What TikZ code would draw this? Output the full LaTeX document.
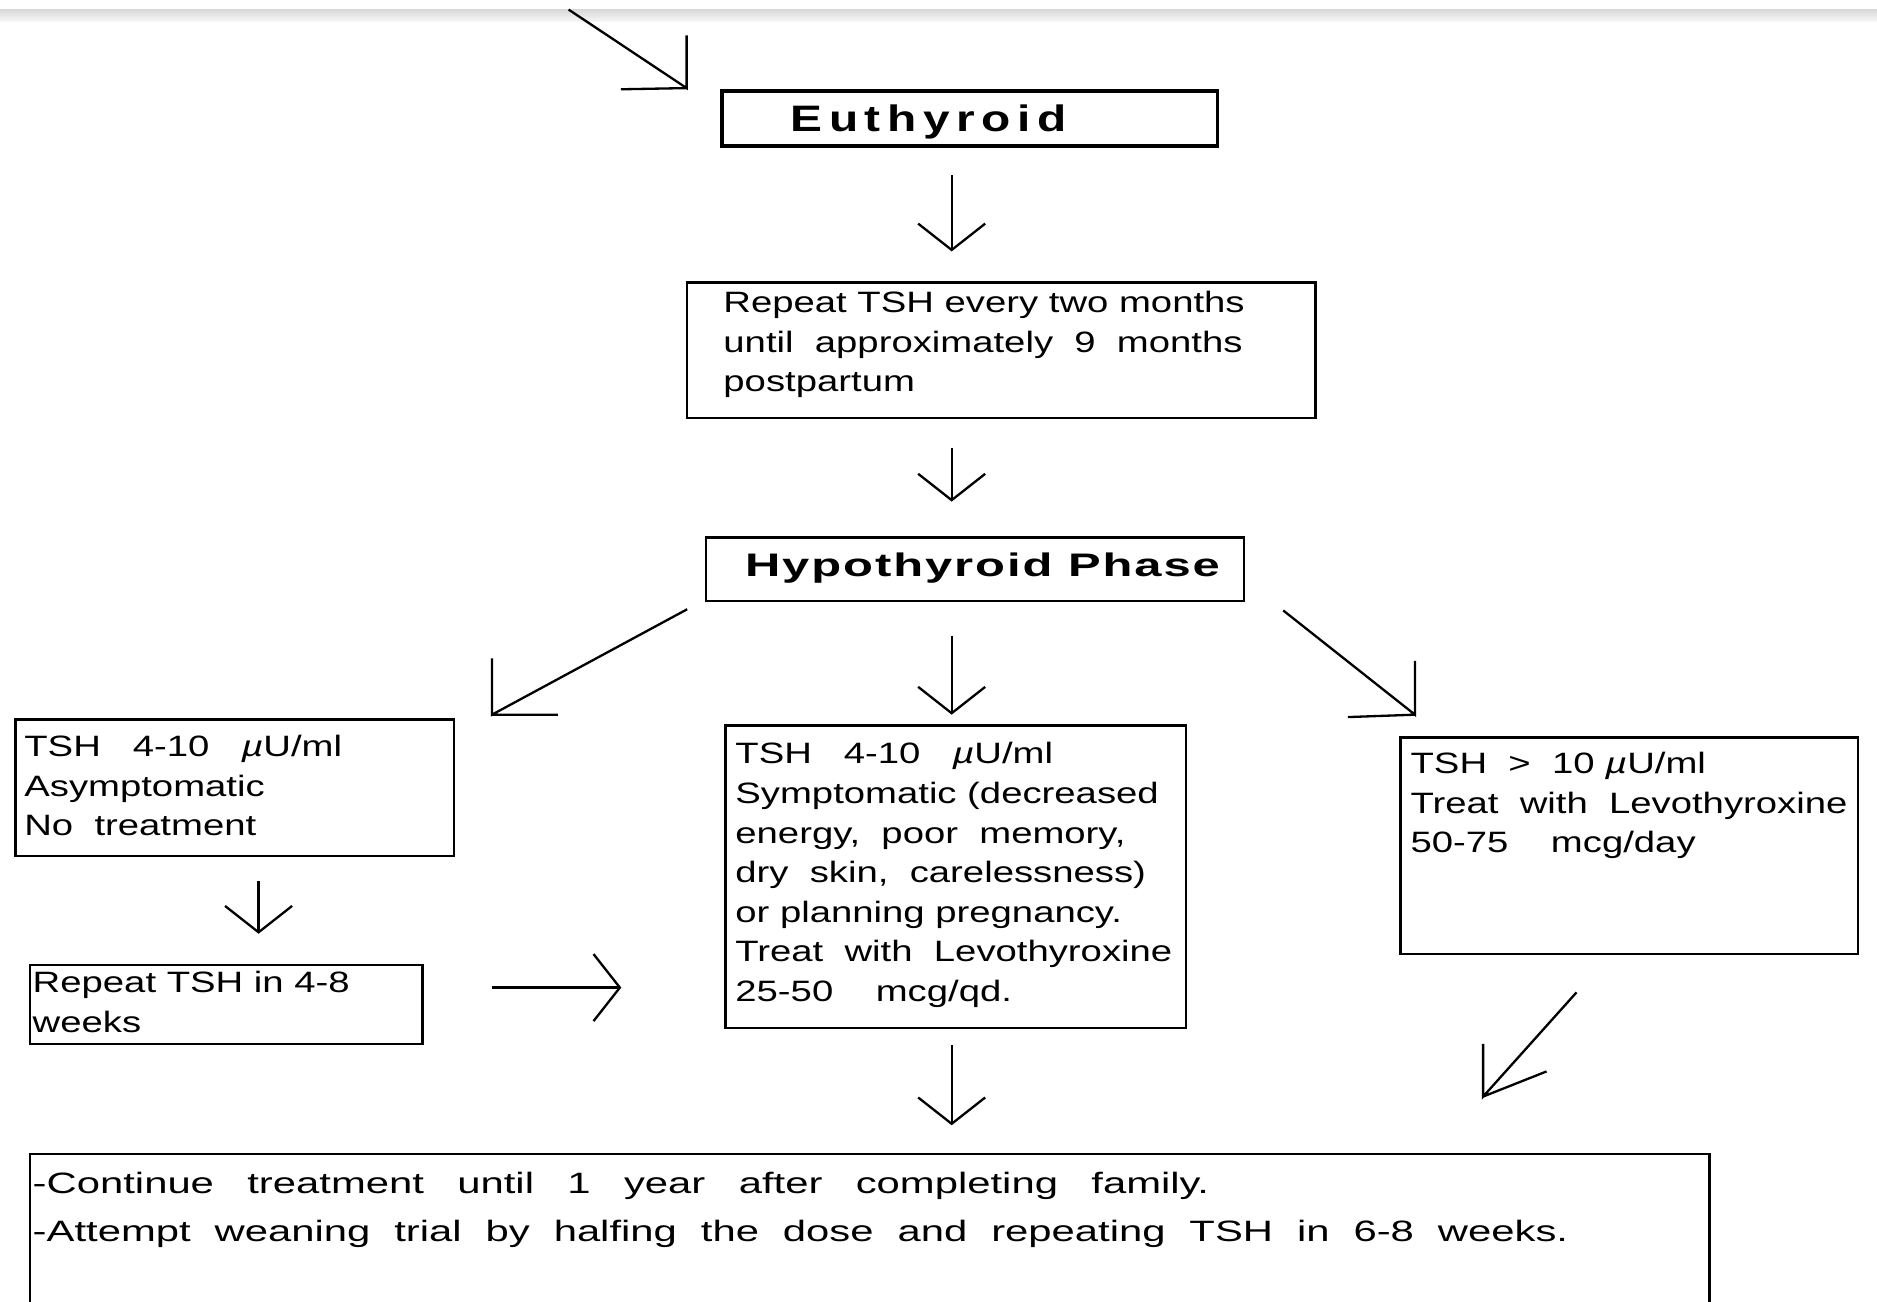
\documentclass[tikz,border=0pt]{standalone}
\usepackage{fontspec}
\setmainfont{Liberation Sans}
\newfontfamily\bodyfont{Liberation Sans}[FakeStretch=1.3]
\newfontfamily\widefont{Liberation Sans}[FakeStretch=1.42]
\newfontfamily\eufont{Liberation Sans}[FakeStretch=1.3,LetterSpace=18]
\newfontfamily\phasefont{Liberation Sans}[FakeStretch=1.5,LetterSpace=6]
\usetikzlibrary{arrows.meta,calc,fit}

\tikzset{
  box/.style={draw,line width=1.1pt,inner sep=0pt},
  txt/.style={font=\bodyfont\fontsize{14}{18.8}\selectfont,align=left,inner sep=0pt,anchor=north west},
  phase/.style={font=#1,inner sep=0pt,anchor=base west},
  darr/.style={line width=1.1pt,-{Straight Barb[length=4.4mm,width=11.2mm]}},
  barb/.style={line width=1.1pt}
}

\begin{document}
\begin{tikzpicture}[x=0.02cm,y=-0.02cm]
  \useasboundingbox (0,0) rectangle (1568,1087);
  \clip (0,0) rectangle (1568,1087);
  \shade[top color=black!15,bottom color=black!3] (0,8) rectangle (1568,18);
  \coordinate (ax) at (795,0);
  \coordinate (bx) at (216,0);
  \coordinate (ay) at (0,825);
  \coordinate (top) at (475,8);

  % boxes
  \node[box,line width=1.6pt,fit={(603,76) (1017,122)}] (euth) {};
  \node[phase=\eufont\bfseries\fontsize{17.5}{17.5}\selectfont] (euthtxt) at (660,110) {Euthyroid};
  \node[box,fit={(574,236) (1099,349)}] (rep) {};
  \node[txt] (reptxt) at (604,243) {Repeat TSH every two months\\until~~approximately~~9~~months\\postpartum};
  \node[box,fit={(590,449) (1039,502)}] (hypo) {};
  \node[phase=\phasefont\bfseries\fontsize{15.5}{15.5}\selectfont] (hypotxt) at (622,482) {Hypothyroid Phase};
  \node[box,fit={(13,601) (379,715)}] (lbox) {};
  \node[txt] (ltxt) at (20,614) {TSH~~~4-10~~~\textit{µ}U/ml\\Asymptomatic\\No~~treatment};
  \node[box,fit={(25,806) (353,872)}] (rep48) {};
  \node[txt] (rep48txt) at (27,811) {Repeat TSH in 4-8\\weeks};
  \node[box,fit={(606,606) (991,859)}] (mid) {};
  \node[txt] (midtxt) at (614,620) {TSH~~~4-10~~~\textit{µ}U/ml\\Symptomatic (decreased\\energy,~~poor~~memory,\\dry~~skin,~~carelessness)\\or planning pregnancy.\\Treat~~with~~Levothyroxine\\25-50~~~~mcg/qd.};
  \node[box,fit={(1170,616) (1552,797)}] (rbox) {};
  \node[txt] (rtxt) at (1178,628) {TSH~~>~~10 \textit{µ}U/ml\\Treat~~with~~Levothyroxine\\50-75~~~~mcg/day};
  \node[box,fit={(25,964) (1428,1100)}] (fin) {};
  \node[txt,font=\widefont\fontsize{14}{22.8}\selectfont] (fintxt) at (27,979)
    {\makebox[19.66cm][s]{-Continue treatment until 1 year after completing family.}\\
     \makebox[25.66cm][s]{-Attempt weaning trial by halfing the dose and repeating TSH in 6-8 weeks.}};

  % straight arrows
  \draw[darr,shorten <=4.6mm,shorten >=5mm] (euth.south -| ax) -- (rep.north -| ax);
  \draw[darr,shorten <=4.8mm,shorten >=5.8mm] (rep.south -| ax) -- (hypo.north -| ax);
  \draw[darr,shorten <=5.6mm,shorten >=1.6mm] (hypo.south -| ax) -- (mid.north -| ax);
  \draw[darr,shorten <=4mm,shorten >=5mm] (lbox.south -| bx) -- (rep48.north -| bx);
  \draw[darr,shorten <=11.4mm,shorten >=17.2mm] (rep48.east |- ay) -- (mid.west |- ay);
  \draw[darr,shorten <=2.6mm,shorten >=4.6mm] (mid.south -| ax) -- (fin.north -| ax);

  % slanted arrows
  \coordinate (d0t) at ($(euth.north west)+(-28,-1)$);
  \draw[barb] (top) -- (d0t) -- ++(0,-44) (d0t) -- ++(-55,1);
  \coordinate (d1s) at ($(hypo.south west)+(-15,6)$);
  \coordinate (d1t) at ($(lbox.north east)+(31,-3)$);
  \draw[barb] (d1s) -- (d1t) -- ++(0,-47) (d1t) -- ++(55,0);
  \coordinate (d2s) at ($(hypo.south east)+(32,7)$);
  \coordinate (d2t) at ($(rbox.north west)+(13,-18)$);
  \draw[barb] (d2s) -- (d2t) -- ++(0,-45) (d2t) -- ++(-56,2);
  \coordinate (d3s) at ($(rbox.south)+(-44,31)$);
  \coordinate (d3t) at ($(fin.north east)+(-190,-47)$);
  \draw[barb] (d3s) -- (d3t) -- ++(0,-44) (d3t) -- ++(53,-21);
\end{tikzpicture}
\end{document}
